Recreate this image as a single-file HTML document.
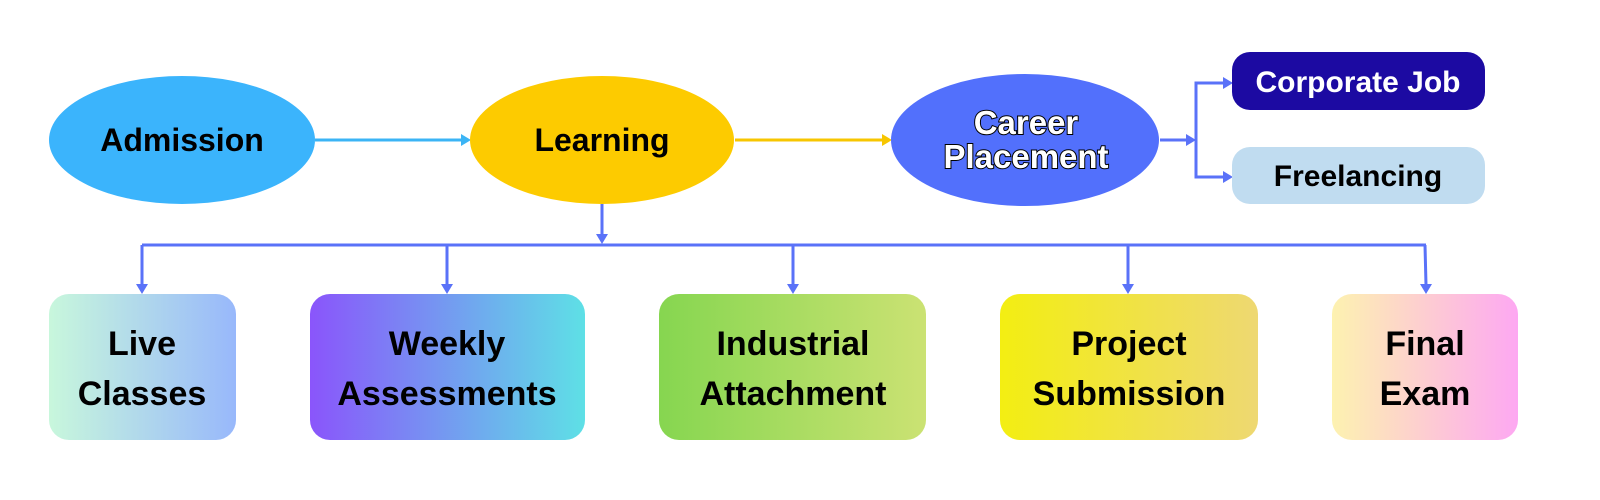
<!DOCTYPE html>
<html><head><meta charset="utf-8"><style>
html,body{margin:0;padding:0;background:#fff;}
svg{display:block;}
text{font-family:"Liberation Sans",sans-serif;font-weight:bold;text-anchor:middle;}
</style></head><body>
<svg width="1600" height="500" viewBox="0 0 1600 500" xmlns="http://www.w3.org/2000/svg">
<defs>
<linearGradient id="g1" x1="0" x2="1"><stop offset="0" stop-color="#c8f7dc"/><stop offset="1" stop-color="#98b8fb"/></linearGradient>
<linearGradient id="g2" x1="0" x2="1"><stop offset="0" stop-color="#8a55fb"/><stop offset="1" stop-color="#5ee0e6"/></linearGradient>
<linearGradient id="g3" x1="0" x2="1"><stop offset="0" stop-color="#86d650"/><stop offset="1" stop-color="#cbe273"/></linearGradient>
<linearGradient id="g4" x1="0" x2="1"><stop offset="0" stop-color="#f3ee12"/><stop offset="1" stop-color="#eed872"/></linearGradient>
<linearGradient id="g5" x1="0" x2="1"><stop offset="0" stop-color="#fdf2b0"/><stop offset="1" stop-color="#fda8f2"/></linearGradient>
</defs>
<g stroke-width="3" fill="none">
<line x1="315" y1="140" x2="462" y2="140" stroke="#3bb4f5"/>
<line x1="735" y1="140" x2="883" y2="140" stroke="#f7c600"/>
<g stroke="#5a72f8">
<line x1="1160" y1="140" x2="1188" y2="140"/>
<polyline points="1224,83 1196,83 1196,177 1224,177"/>
<line x1="602" y1="204" x2="602" y2="236"/>
<line x1="142" y1="245" x2="1426" y2="245"/>
<line x1="142" y1="245" x2="142" y2="285"/>
<line x1="447" y1="245" x2="447" y2="285"/>
<line x1="793" y1="245" x2="793" y2="285"/>
<line x1="1128" y1="245" x2="1128" y2="285"/>
<line x1="1425" y1="245" x2="1426" y2="285"/>
</g>
</g>
<g fill="#3bb4f5"><polygon points="471,140 461,134 461,146"/></g>
<g fill="#f7c600"><polygon points="892,140 882,134 882,146"/></g>
<g fill="#5a72f8">
<polygon points="1196,140 1186,134 1186,146"/>
<polygon points="1233,83 1223,77 1223,89"/>
<polygon points="1233,177 1223,171 1223,183"/>
<polygon points="602,244 596,234 608,234"/>
<polygon points="142,294 136,284 148,284"/>
<polygon points="447,294 441,284 453,284"/>
<polygon points="793,294 787,284 799,284"/>
<polygon points="1128,294 1122,284 1134,284"/>
<polygon points="1426,294 1420,284 1432,284"/>
</g>
<ellipse cx="182" cy="140" rx="133" ry="64" fill="#3bb4fc"/>
<ellipse cx="602" cy="140" rx="132" ry="64" fill="#fdcb00"/>
<ellipse cx="1025" cy="140" rx="134" ry="66" fill="#5270fc"/>
<rect x="1232" y="52" width="253" height="58" rx="18" fill="#1c0aa2"/>
<rect x="1232" y="147" width="253" height="57" rx="18" fill="#c0dcf0"/>
<rect x="49" y="294" width="187" height="146" rx="20" fill="url(#g1)"/>
<rect x="310" y="294" width="275" height="146" rx="20" fill="url(#g2)"/>
<rect x="659" y="294" width="267" height="146" rx="20" fill="url(#g3)"/>
<rect x="1000" y="294" width="258" height="146" rx="20" fill="url(#g4)"/>
<rect x="1332" y="294" width="186" height="146" rx="20" fill="url(#g5)"/>
<g font-size="32" fill="#000">
<text x="182" y="151">Admission</text>
<text x="602" y="151">Learning</text>
</g>
<g font-size="33" fill="#fff" stroke="#000" stroke-width="2" paint-order="stroke">
<text x="1026" y="134">Career</text>
<text x="1026" y="168">Placement</text>
</g>
<text x="1358" y="92" font-size="30" fill="#fff">Corporate Job</text>
<text x="1358" y="186" font-size="30" fill="#000">Freelancing</text>
<g font-size="34" fill="#000">
<text x="142" y="355">Live</text><text x="142" y="405">Classes</text>
<text x="447" y="355">Weekly</text><text x="447" y="405">Assessments</text>
<text x="793" y="355">Industrial</text><text x="793" y="405">Attachment</text>
<text x="1129" y="355">Project</text><text x="1129" y="405">Submission</text>
<text x="1425" y="355">Final</text><text x="1425" y="405">Exam</text>
</g>
</svg>
</body></html>
